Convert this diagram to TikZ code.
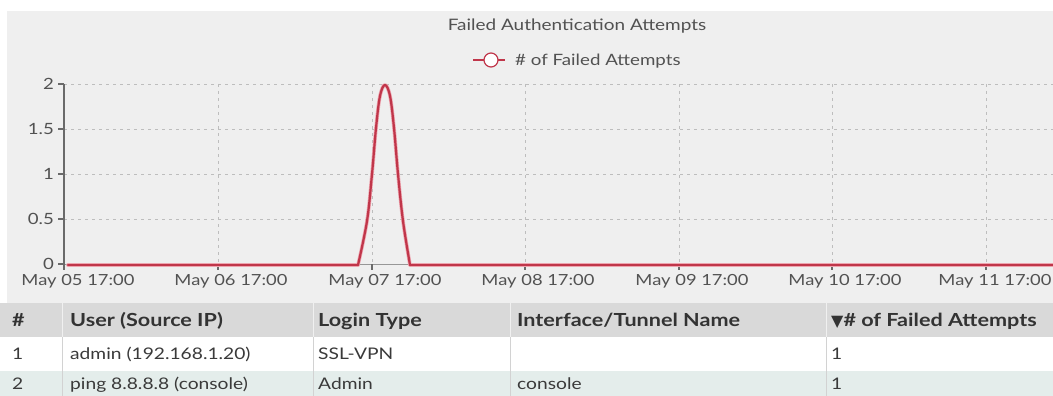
\documentclass[tikz,border=0pt]{standalone}
\usepackage{fontspec}
\setmainfont{Lato}[FakeStretch=1.2]
\newfontfamily\symfont{DejaVu Sans}
\definecolor{chartbg}{HTML}{EFEFEF}
\definecolor{gridc}{HTML}{BDBDBD}
\definecolor{axisc}{HTML}{6A6A6A}
\definecolor{seriesc}{HTML}{C0364A}
\definecolor{serieslt}{HTML}{EDA5AF}
\definecolor{labelc}{HTML}{525252}
\definecolor{headbg}{HTML}{D9D9D9}
\definecolor{headtxt}{HTML}{333333}
\definecolor{celltxt}{HTML}{3A3A3A}
\definecolor{altrow}{HTML}{E4EDEB}
\definecolor{divc}{HTML}{D2D2D2}
\tikzset{
  gridline/.style={gridc, line width=0.9pt, dash pattern=on 3pt off 4pt},
  axisline/.style={axisc, line width=1.1pt},
  series/.style={seriesc, line width=2.2pt, line join=round, line cap=round},
  serieshalo/.style={serieslt, line width=3.6pt, line join=round, line cap=round},
  ylab/.style={anchor=east, inner sep=0pt, text=labelc, font=\fontsize{15.5}{17}\selectfont},
  xlab/.style={anchor=base, inner sep=0pt, text=labelc, font=\fontsize{15.3}{18}\selectfont},
  headcell/.style={anchor=base west, inner sep=0pt, text=headtxt, font=\fontsize{18}{21}\selectfont\bfseries},
  cell/.style={anchor=base west, inner sep=0pt, text=celltxt, font=\fontsize{16}{19}\selectfont},
}
\begin{document}
\begin{tikzpicture}[x=1pt,y=-1pt]
\useasboundingbox (0,0) rectangle (1053,396);
% chart panel
\fill[chartbg] (7,11) rectangle (1053,303);
\node[anchor=base, inner sep=0pt, text=labelc, font=\fontsize{15.8}{19}\selectfont] (title) at (577,31) {Failed Authentication Attempts};
% legend
\coordinate (legA) at (473,60);
\coordinate (legB) at (505,60);
\draw[seriesc, line width=1.4pt] (legA) -- (legB);
\node[circle, draw=seriesc, fill=white, line width=1.2pt, minimum size=14pt, inner sep=0pt] (legmark) at (491,60) {};
\node[anchor=base west, inner sep=0pt, text=labelc, font=\fontsize{15.6}{18}\selectfont] (legtext) at (515,66) {\# of Failed Attempts};
% horizontal grid
\foreach \yv in {84,129,174,219}
  \draw[gridline] (64,\yv) -- (1053,\yv);
% vertical grid
\foreach \xv in {218,372,525,679,832,986}
  \draw[gridline] (\xv,84) -- (\xv,264);
% axes
\coordinate (ytop) at (64,84);
\coordinate (origin) at (64,264);
\coordinate (xend) at (1053,264);
\draw[axisline] (ytop) -- (origin);
\draw[axisc!70, line width=1pt] (origin) -- (xend);
\foreach \yv in {84,129,174,219,264}
  \draw[axisline] (58,\yv) -- (64,\yv);
\foreach \xv in {64,218,372,525,679,832,986}
  \draw[axisline] (\xv,264) -- (\xv,270);
% y tick labels
\node[ylab] (y2) at (54,84) {2};
\node[ylab] (y15) at (54,129) {1.5};
\node[ylab] (y1) at (54,174) {1};
\node[ylab] (y05) at (54,219) {0.5};
\node[ylab] (y0) at (54,264) {0};
% x tick labels
\node[xlab] (x1) at (78,285) {May 05 17:00};
\node[xlab] (x2) at (231,285) {May 06 17:00};
\node[xlab] (x3) at (385,285) {May 07 17:00};
\node[xlab] (x4) at (538,285) {May 08 17:00};
\node[xlab] (x5) at (692,285) {May 09 17:00};
\node[xlab] (x6) at (845,285) {May 10 17:00};
\node[xlab] (x7) at (995,285) {May 11 17:00};
% data series
\foreach \st in {serieshalo,series}{
  \draw[\st] (68,265) -- (358,265);
  \draw[\st] plot[smooth, tension=0.6] coordinates {(358,265) (367,221) (372,174) (376,128) (380,96) (385,85) (390,96) (394,128) (398,174) (403,221) (410,265)};
  \draw[\st] (410,265) -- (1053,265);
}
% table
\fill[headbg] (0,303) rectangle (1053,337);
\fill[white] (0,337) rectangle (1053,371);
\fill[altrow] (0,371) rectangle (1053,396);
\foreach \xv in {62,313,510,826}{
  \draw[white!60!headbg, line width=1pt] (\xv,303) -- (\xv,337);
  \draw[divc, line width=1pt] (\xv,337) -- (\xv,396);
}
\node[headcell] (h1) at (12,326) {\#};
\node[headcell] (h2) at (70,326) {User (Source IP)};
\node[headcell] (h3) at (318,326) {Login Type};
\node[headcell] (h4) at (517,326) {Interface/Tunnel Name};
\node[headcell] (h5) at (831,326) {{\symfont\fontsize{16}{18}\selectfont ▼}\# of Failed Attempts};
\node[cell] (r1a) at (12,359) {1};
\node[cell] (r1b) at (70,359) {admin (192.168.1.20)};
\node[cell] (r1c) at (318,359) {SSL-VPN};
\node[cell] (r1e) at (831,359) {1};
\node[cell] (r2a) at (12,389) {2};
\node[cell] (r2b) at (70,389) {ping 8.8.8.8 (console)};
\node[cell] (r2c) at (318,389) {Admin};
\node[cell] (r2d) at (517,389) {console};
\node[cell] (r2e) at (831,389) {1};
\end{tikzpicture}
\end{document}
